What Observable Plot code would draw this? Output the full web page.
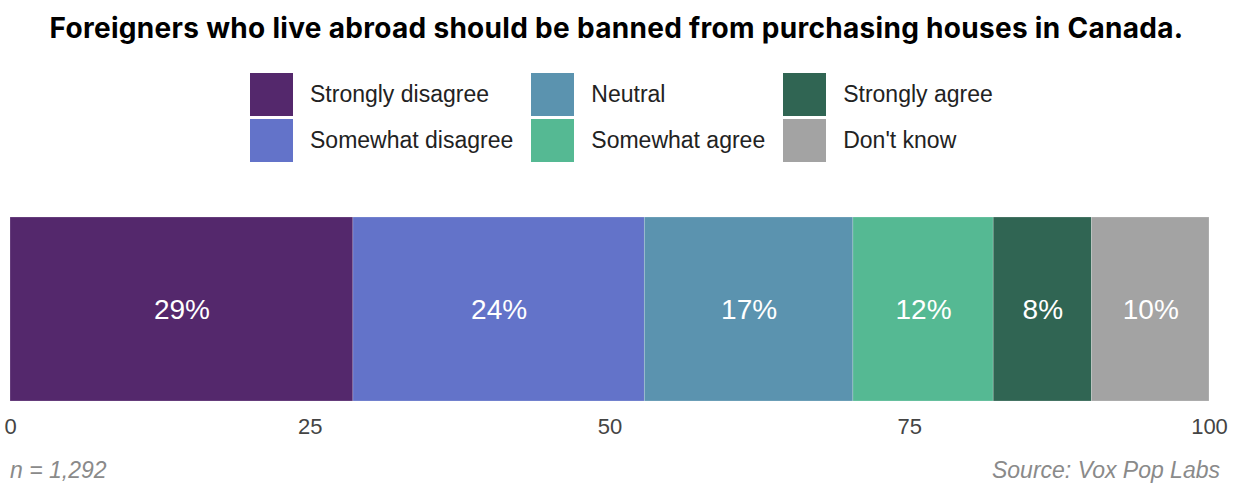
<!DOCTYPE html>
<html>
<head>
<meta charset="utf-8">
<script src="https://cdn.jsdelivr.net/npm/d3@7"></script>
<script src="https://cdn.jsdelivr.net/npm/@observablehq/plot@0.6"></script>
<style>
  html, body { margin: 0; padding: 0; background: #fff; }
  body { width: 1233px; height: 483px; position: relative; overflow: hidden; font-family: "Liberation Sans", Arial, sans-serif; }
  #title { position: absolute; top: 8px; left: 0; width: 1233px; text-align: center; font-family: Inter, Roboto, sans-serif; font-weight: 700; font-size: 28px; color: #000; line-height: 40px; letter-spacing: 0.3px; }
  #legend { position: absolute; top: 73px; left: 250px; display: grid; grid-template-columns: auto auto auto; column-gap: 18px; row-gap: 3px; }
  .item { display: flex; align-items: center; height: 43px; }
  .sw { width: 43px; height: 43px; margin-right: 17px; flex: none; }
  .lab { font-size: 23px; color: #222; white-space: nowrap; }
  #chart { position: absolute; top: 170px; left: 0; }
  .foot { position: absolute; top: 456px; font-size: 23px; font-style: italic; color: #8a8a8a; line-height: 28px; }
</style>
</head>
<body>
<div id="title">Foreigners who live abroad should be banned from purchasing houses in Canada.</div>
<div id="legend"></div>
<div id="chart"></div>
<div class="foot" style="left:10px;">n = 1,292</div>
<div class="foot" style="right:13px;">Source: Vox Pop Labs</div>
<script>
const categories = ["Strongly disagree", "Somewhat disagree", "Neutral", "Somewhat agree", "Strongly agree", "Don't know"];
const values = [28.6, 24.3, 17.4, 11.7, 8.2, 9.8];
const labels = ["29%", "24%", "17%", "12%", "8%", "10%"];
const colors = ["#54286c", "#6373c9", "#5b93af", "#55b993", "#306553", "#a3a3a3"];
const xTicks = [0, 25, 50, 75, 100];

const data = categories.map((c, i) => ({category: c, value: values[i], label: labels[i]}));

// legend in column-major order (3 columns x 2 rows)
const legend = document.getElementById("legend");
const order = [0, 2, 4, 1, 3, 5];
for (const i of order) {
  const it = document.createElement("div");
  it.className = "item";
  it.innerHTML = `<div class="sw" style="background:${colors[i]}"></div><div class="lab">${categories[i]}</div>`;
  legend.appendChild(it);
}

const plot = Plot.plot({
  width: 1233,
  height: 285,
  marginLeft: 10,
  marginRight: 24,
  marginTop: 47,
  marginBottom: 54,
  style: {fontFamily: "'Liberation Sans', Arial, sans-serif", fontSize: "22px", color: "#444", background: "transparent"},
  x: {domain: [0, 100], ticks: xTicks, tickSize: 0, tickPadding: 17, label: null},
  color: {domain: categories, range: colors},
  marks: [
    Plot.barX(data, Plot.stackX({x: "value", fill: "category", order: null, stroke: "white", strokeOpacity: 0.35, strokeWidth: 0.6})),
    Plot.text(data, Plot.stackX({x: "value", text: "label", order: null, fill: "white", fontSize: 28, dy: 1})),
    Plot.axisX({ticks: xTicks, tickSize: 0, tickPadding: 17, fill: "#444", fontSize: 22, label: null})
  ]
});
document.getElementById("chart").appendChild(plot);
</script>
</body>
</html>
